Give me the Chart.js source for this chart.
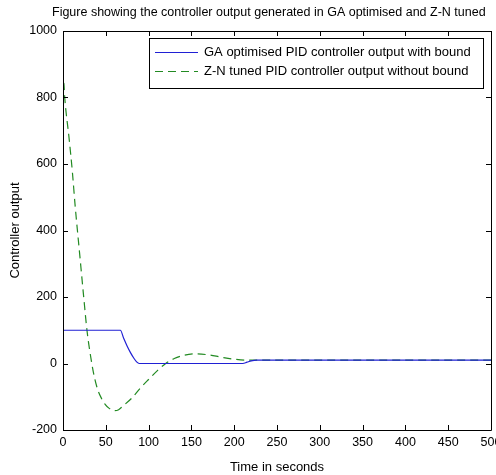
<!DOCTYPE html>
<html><head><meta charset="utf-8">
<script src="https://cdn.jsdelivr.net/npm/chart.js@4/dist/chart.umd.min.js"></script>
<style>html,body{margin:0;padding:0;background:#fff;overflow:hidden}</style>
</head><body>
<canvas id="c" width="496" height="475" style="width:496px;height:475px;display:block"></canvas>
<script>
const titleText = "Figure showing the controller output generated in GA optimised and Z-N tuned";
const xAxisTitle = "Time in seconds";
const yAxisTitle = "Controller output";
const seriesLabels = ["GA optimised PID controller output with bound", "Z-N tuned PID controller output without bound"];

const gaTime   = [0, 30, 67, 71, 75, 79, 83, 86, 89, 120, 180, 210, 215, 220, 226, 300, 400, 500];
const gaOutput = [100, 100, 100, 75, 52, 32, 15, 5, 0, 0, 0, 0, 4, 8, 10, 10, 10, 10];

const znTime   = [0, 1, 2, 7, 11, 14, 20, 24, 28, 33, 37, 41, 45, 49, 54, 60, 65, 70, 80, 90, 100, 110, 120, 130, 140, 155, 170, 185, 200, 215, 230, 260, 300, 400, 500];
const znOutput = [845, 842, 800, 680, 575, 480, 315, 205, 100, 10, -45, -82, -105, -122, -135, -142, -139, -128, -105, -75, -48, -22, 0, 15, 24, 29, 26, 19, 13, 10, 10, 10, 10, 10, 10];

const xTickValues = [0, 50, 100, 150, 200, 250, 300, 350, 400, 450, 500];
const yTickValues = [-200, 0, 200, 400, 600, 800, 1000];

const FONT = "'Liberation Sans', Arial, sans-serif";
const blue = '#2020d4';
const green = '#228a22';

function toPts(xs, ys) { return xs.map((x, i) => ({x: x, y: ys[i]})); }

const framePlugin = {
  id: 'frame',
  afterDraw(chart) {
    const ctx = chart.ctx;
    const a = chart.chartArea;
    const xs = chart.scales.x, ys = chart.scales.y;
    ctx.save();
    ctx.strokeStyle = '#000';
    ctx.lineWidth = 1;
    ctx.beginPath();
    ctx.rect(Math.round(a.left) + 0.5, Math.round(a.top) + 0.5, Math.round(a.right - a.left), Math.round(a.bottom - a.top));
    const tl = 5;
    xTickValues.forEach(v => {
      const px = Math.round(xs.getPixelForValue(v)) + 0.5;
      ctx.moveTo(px, a.bottom); ctx.lineTo(px, a.bottom - tl);
      ctx.moveTo(px, a.top); ctx.lineTo(px, a.top + tl);
    });
    yTickValues.forEach(v => {
      const py = Math.round(ys.getPixelForValue(v)) + 0.5;
      ctx.moveTo(a.left, py); ctx.lineTo(a.left + tl, py);
      ctx.moveTo(a.right, py); ctx.lineTo(a.right - tl, py);
    });
    ctx.stroke();

    // legend box
    const lx = 149.5, ly = 38.5, lw = 334, lh = 50;
    ctx.fillStyle = '#fff';
    ctx.fillRect(lx, ly, lw, lh);
    ctx.strokeRect(lx, ly, lw, lh);
    const rows = [52.5, 71.5];
    chart.data.datasets.forEach((ds, i) => {
      ctx.strokeStyle = ds.borderColor;
      ctx.lineWidth = 1.2;
      ctx.setLineDash(ds.borderDash || []);
      ctx.beginPath();
      ctx.moveTo(155, rows[i]); ctx.lineTo(198, rows[i]);
      ctx.stroke();
      ctx.setLineDash([]);
      ctx.fillStyle = '#000';
      ctx.font = '13px ' + FONT;
      ctx.textBaseline = 'middle';
      ctx.textAlign = 'left';
      ctx.fillText(ds.label, 204, rows[i]);
    });

    // title
    ctx.fillStyle = '#000';
    ctx.font = '12.5px ' + FONT;
    ctx.textBaseline = 'middle';
    ctx.textAlign = 'left';
    ctx.fillText(titleText, 52, 13);
    ctx.restore();
  }
};

new Chart(document.getElementById('c'), {
  type: 'line',
  data: {
    datasets: [
      { label: seriesLabels[0], data: toPts(gaTime, gaOutput), borderColor: blue, borderWidth: 1.2, pointRadius: 0, fill: false, cubicInterpolationMode: 'monotone' },
      { label: seriesLabels[1], data: toPts(znTime, znOutput), borderColor: green, borderWidth: 1.2, borderDash: [8, 5], pointRadius: 0, fill: false, cubicInterpolationMode: 'monotone' }
    ]
  },
  options: {
    responsive: false,
    animation: false,
    devicePixelRatio: 1,
    layout: { padding: { top: 31, right: 5, left: 0, bottom: 0 } },
    plugins: { legend: { display: false }, title: { display: false }, tooltip: { enabled: false } },
    scales: {
      x: {
        type: 'linear', min: 0, max: 500,
        afterBuildTicks(s) { s.ticks = xTickValues.map(v => ({value: v})); },
        afterFit(s) { s.height = 45; s.paddingLeft = 0; s.paddingRight = 0; },
        grid: { display: false, drawTicks: false },
        border: { display: false },
        ticks: { color: '#000', padding: 5, maxRotation: 0, autoSkip: false, font: { family: FONT, size: 12.5 }, callback: v => String(v) },
        title: { display: true, text: xAxisTitle, color: '#000', font: { family: FONT, size: 13 }, padding: { top: 6, bottom: 0 } }
      },
      y: {
        type: 'linear', min: -200, max: 1000,
        afterBuildTicks(s) { s.ticks = yTickValues.map(v => ({value: v})); },
        afterFit(s) { s.width = 63; s.paddingTop = 0; s.paddingBottom = 0; },
        grid: { display: false, drawTicks: false },
        border: { display: false },
        ticks: { color: '#000', padding: 6, autoSkip: false, font: { family: FONT, size: 12.5 }, callback: v => String(v) },
        title: { display: true, text: yAxisTitle, color: '#000', font: { family: FONT, size: 13 }, padding: { top: 8, bottom: 0 } }
      }
    }
  },
  plugins: [framePlugin]
});
</script>
</body></html>
